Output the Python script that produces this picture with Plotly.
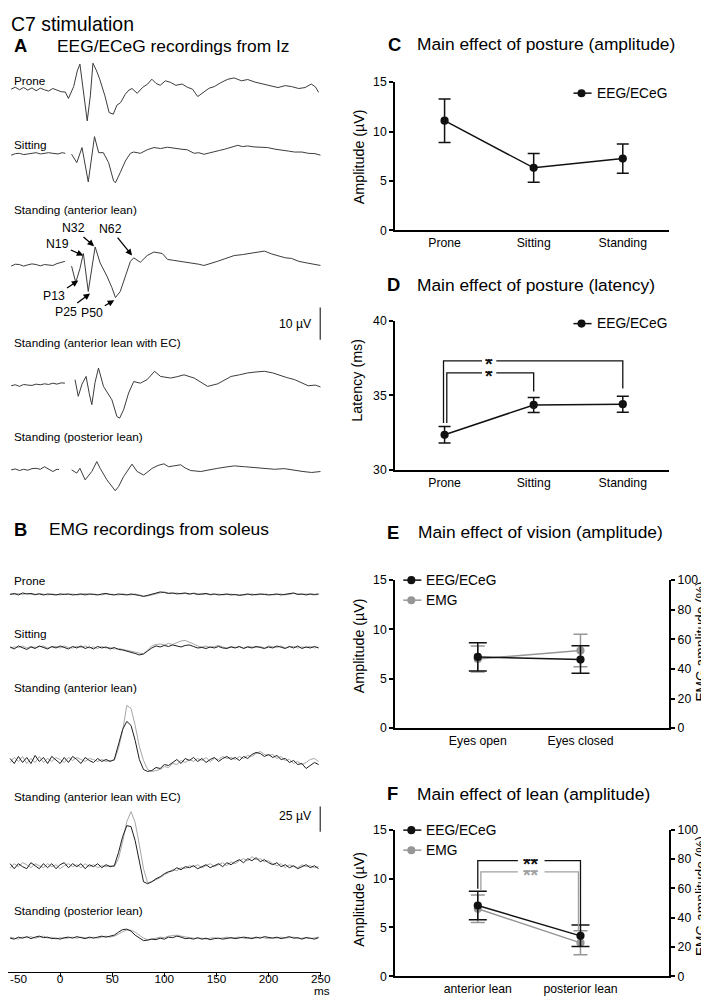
import plotly.graph_objects as go

W, H = 709, 998
FONT = "Liberation Sans, Arial, sans-serif"

# The page is photographed slightly scaled and offset; all positions below are given in
# picture pixels and mapped to figure pixels here.
SX, SY, OX, OY = 0.979, 0.984, 8.5, 16.0


def fxp(x):
    return (x - OX) / SX


def fyp(y):
    return (y - OY) / SY


def px(x):
    return min(W, max(0.0, fxp(x))) / W


def py(y):
    return 1 - min(H, max(0.0, fyp(y))) / H


def fs(size):
    return round(size / SX, 2)


# ------------------------------------------------------------------ data
eeg_names = ["Prone", "Sitting", "Standing (anterior lean)",
             "Standing (anterior lean with EC)", "Standing (posterior lean)"]

eeg_prone_t = [-47, -43, -39, -35, -31, -27, -23, -19, -15, -11, -7, -3, 1, 5, 8, 13, 16.5, 19, 22, 26,
               29, 31.5, 35, 38, 43, 47, 51, 54.5, 58, 62.5, 66, 69, 74, 79, 84, 88, 92, 96, 101, 106,
               111, 117, 122, 127, 132, 138, 143, 148, 154, 161, 167, 174, 180, 187, 196, 203, 209, 216,
               222, 229, 235, 241, 245, 248]
eeg_prone_v = [0, 0.6, -0.2, 0.5, -0.3, 0.4, -0.5, 0.3, -0.2, -0.6, 0.2, -0.4, -0.8, -0.9, -2.9, 0.8, 5.7,
               7.8, 0, -9.9, -2.1, 8.1, 5.7, 3.1, -2.1, -7.3, -7.8, -5.0, -4.2, -1.6, -0.3, 0.2, -1.3, 0.5,
               1.6, 3.1, 1.8, 1.2, 2.6, 2.1, 1.2, 1.6, 0.6, 0, -2.3, -0.8, 0.3, 0.8, 2.0, 3.1, 3.5, 2.6,
               3.0, 2.2, 1.6, 0.9, 0.5, 1.1, 0.8, 0.2, 0.5, 1.6, 0.7, -1.0]
eeg_sit_t = [-47, -43, -39, -35, -31, -27, -23, -19, -15, -11, -7, -2, 2, 5, None, 11, 16, 21, 27, 33,
             37, 41.5, 46.5, 51.3, 53, 57.7, 62.6, 67.4, 70.6, 77, 83.5, 90, 96.4, 103, 109.3, 116, 122,
             128.6, 133, 138, 143, 148, 153, 158, 164, 170.5, 175, 180, 186, 193, 199, 206, 212, 219, 225,
             232, 238, 244.5, 250]
eeg_sit_v = [-0.3, 0.2, 0.3, -0.1, 0.1, 0.4, 0.5, 0.1, 0.2, 0.5, 0.3, 0.1, 0.5, 0.3, None, 0, -2.6, 2.1,
             -8.6, 5.5, 0.5, 0.5, -2.6, -8.3, -8.9, -5.7, -2.1, 0.3, 0.7, 0.3, 1.4, 2.1, 1.8, 2.2, 1.8,
             1.6, 1.4, 0.3, 0.5, 0, 0.4, 0.7, 1.2, 1.6, 2.1, 2.8, 2.4, 2.6, 2.3, 2.1, 2.1, 1.6, 1.4, 1.0,
             0.7, 0.7, 0.3, 0.2, -0.3]
eeg_ant_t = [-47, -43, -39, -35, -31, -27, -23, -19, -15, -11, -7, -3, 1, 4.6, None, 11, 15, 19, 22.3, 27,
             33.6, 38.4, 44.9, 49.7, 53.1, 57.7, 62.6, 67.4, 70.6, 77, 83.5, 90, 98, 103, 109, 116, 122,
             128.6, 133, 138, 145, 151, 158, 167, 175, 183, 190, 196, 203, 209, 216, 222, 229, 235, 242, 250]
eeg_ant_v = [-0.2, 0.4, 0.3, -0.2, 0.2, 0.5, 0.3, -0.1, 0.3, 0.1, 0, 0.6, 1.0, 1.3, None, -0.2, -5.3, -1,
             3.75, -8.1, 5.8, 0.8, -3.3, -6.9, -10, -8.1, -3.3, 1.25, 2.4, 1.0, 3.1, 4.2, 3.75, 1.9, 1.6,
             1.3, 1.0, 0.8, 0.4, 0, 0.6, 1.3, 2.1, 3.1, 3.4, 3.75, 4.2, 4.5, 3.6, 3.1, 2.4, 2.2, 1.3, 0.9,
             0.5, 0]
eeg_ec_t = [-47, -43, -39, -35, -31, -27, -23, -19, -15, -11, -7, -3, 1, 4.6, None, 14.3, 17.4, 21, 24.9, 28,
            30.4, 33.5, 36.8, 41.6, 46.4, 49.7, 54.5, 57.1, 60.9, 65.7, 70.6, 77, 83.5, 90.6, 96.4, 106, 112,
            118.9, 128.6, 135, 141.5, 151.2, 158, 164, 172, 180, 188, 196, 204, 209, 217, 225, 232, 238,
            245, 250]
eeg_ec_v = [0, 0.3, -0.2, 0.4, 0.2, 0.1, 0.5, 0.3, 0.6, 0.4, 0.8, 0.5, 0.9, 0.8, None, 1.9, -3.3, 0.5, 2.9,
            -2.5, -5.9, 1, 5.5, -0.2, -2.8, -4.4, -9.6, -10.1, -7.5, -2.3, 1.3, 0.8, 1.9, 4.5, 2.9, 2.4,
            2.8, 3.4, 2.4, 1.0, -0.2, 0.6, 1.8, 2.9, 3.4, 4.0, 4.3, 4.5, 4.0, 3.4, 2.6, 1.9, 1.0, 0, 0.2,
            -0.4]
eeg_post_t = [-47, -43, -39, -35, -31, -27, -23, -19, -15, -11, -7, -3, -1, None, 11, 16, 19, 24, 30.4,
              35.2, 38.4, 44.9, 52.9, 56.1, 60.9, 69, 73.9, 80.2, 88.4, 94, 99.6, 104, 109.2, 115.7, 120,
              125.4, 135, 143, 151.2, 159, 167.2, 177, 186.5, 196, 205.8, 215, 225.2, 233, 241.3, 250]
eeg_post_v = [0, 0.3, -0.2, 0.2, -0.1, 0.4, 0.5, 0.2, 1.0, 0.3, -0.5, 0.2, 0.1, None, 0, -1.0, 0.5, -3.1,
              -0.5, 2.6, 0.5, -3.1, -6.5, -5.2, -2.1, 1.8, -0.5, -1.6, 0.5, 1.4, 1.9, 1.0, 1.25, 1.6, 0.6,
              -0.2, -0.5, 0.1, 0.5, 0.9, 1.25, 1.0, 0.8, 0.5, 0.2, 0.4, -0.2, -0.5, -0.8, -0.5]

eeg_t = [eeg_prone_t, eeg_sit_t, eeg_ant_t, eeg_ec_t, eeg_post_t]
eeg_v = [eeg_prone_v, eeg_sit_v, eeg_ant_v, eeg_ec_v, eeg_post_v]

peak_labels = ["N19", "N32", "N62", "P13", "P25", "P50"]

emg_t0, emg_dt = -48, 4
emg_prone_black = [0, 1, -0.5, 1.5, 0.5, 1, 0, 0.5, -0.5, 0.5, 0, -0.5, 0.5, 0, 0.5, -0.5, 0, 0.5, -0.5, 0.5,
                   0, -0.5, 0.5, 1, 0, -0.5, 0.5, 0, -0.5, 0.5, 0, -1, -2, -1, 0, 1, 2.5, 2, 1, 1.5,
                   0.5, 1, 1.5, 0.5, 1, 0, 0.5, 1, 0, 0.5, -0.5, 0, 0.5, -0.5, 0, -1, 0, 0.5, -0.5, 0,
                   0.5, 0, -0.5, 0, 0.5, -0.5, 0, 1, 1.5, 0, 0.5, -0.5, 0.5, 0, 0.5]
emg_prone_gray = [0.5, 0, 1, 0, 1, 0.5, -0.5, 1, 0, -0.5, 0.5, 0, -0.5, 0.5, 0, 0.5, -0.5, 0, 1, 0,
                  0.5, 0, -0.5, 0.5, 0.5, 0, -0.5, 0.5, 0, -0.5, 0.5, -0.5, -1.5, -1.5, -0.5, 0.5, 1.5, 2.5, 1.5, 1,
                  1.5, 0.5, 1, 0, 1.5, 0.5, 0, 0.5, -0.5, 0, 0.5, -0.5, 0, 0.5, -0.5, 0, -0.5, 0, 0.5, -0.5,
                  0, 0.5, 0, -0.5, 0, 0.5, -0.5, 0.5, 1, 0.5, 0, 0.5, 0, -0.5, 0]
emg_sit_black = [1, -1, 2, 0, -1.5, 1, -0.5, 2, 0.5, -1, 1.5, 0, 2, 0.5, -1, 1.5, 0, 2, -0.5, 1,
                 -1, 1.5, 0, 1, -1, 0.5, -1.5, -2, -3, -4, -5.5, -7, -6, -3, 0, 2, 1, 2.5, 1.5, 3,
                 2, 1, 2.5, 3, 1.5, 0, 0.5, -0.5, 1, 0, 1.5, 0, -0.5, 1, 0, 1.5, -0.5, 1, 0, 1.5,
                 0.5, -0.5, 1, 0, 2, 0.5, -0.5, 1.5, 0, 2, -0.5, 1, 0, 1.5, 0]
emg_sit_gray = [0, 1, 0.5, 2, 0, 1.5, 0.5, 1, 2, 0, 1, 1.5, 0, 2, 0.5, 0, 1.5, 0.5, 2, 0,
                1, -0.5, 1.5, 0, 0.5, -1, -0.5, -1.5, -2.5, -3, -4.5, -5.5, -6, -2, 2, 3.5, 4, 3, 4.5, 3.5,
                5, 7, 7.5, 6, 4, 2, 1, 2, 0.5, 1.5, 2.5, 1, 0, 1.5, 0.5, 1, 0, 1.5, 1, 0.5,
                1.5, 0, 2, 1, 0.5, 2, 0, 1, 1.5, 0, 1, 0.5, 1.5, 0, 1]
emg_ant_black = [2, -3, 4, -2, 3, -3, 5, -1, 3, -3, 4, 0, -3, 3, -2, 4, 1, -3, 3, 0,
                 -2, 2, -1, 1, -1, 1, 15, 31, 39, 35, 20, 1, -9, -11, -10, -7, -8, -4, -5, -2,
                 1, -3, 2, 0, 3, -1, 2, -2, 1, 3, -1, 2, 4, 1, 3, 0, 4, 2, 6, 8,
                 7, 4, 6, 3, 5, 1, 2, -2, 0, -4, -3, -8, -5, -2, -4]
emg_ant_gray = [-2, 3, -1, 4, -3, 2, -2, 4, -2, 2, -1, 3, 1, -2, 3, 0, 3, 1, -1, 2,
                1, -1, 1, -1, 0, 0, 12, 30, 55, 52, 35, 14, 0, -9, -11, -10, -9, -6, -7, -3,
                -4, 0, -2, 1, -1, 2, 0, 3, -1, 2, 1, 4, 2, 3, 1, 4, 2, 5, 4, 7,
                9, 6, 5, 6, 2, 4, 0, 1, -3, -1, -4, -2, 1, 2, -1]
emg_ec_black = [3, -2, 3, 0, -2, 4, 1, -2, 3, -1, 3, -2, 2, 4, -1, 3, 0, 3, -2, 2,
                0, 3, -1, 2, 0, 1, 14, 30, 41, 40, 26, 6, -15, -17, -15, -12, -10, -7, -5, -4,
                -1, -3, 0, -1, 1, -2, 0, 2, -1, 1, 3, 0, 4, 2, 5, 7, 4, 8, 6, 9,
                5, 7, 4, 2, 4, 0, 2, -1, 1, -2, 0, 2, -1, 1, -2]
emg_ec_gray = [-1, 3, 0, 4, 2, -1, 3, 1, -1, 3, 0, 2, -2, 1, 3, 0, 2, -1, 3, 0,
               2, -1, 1, 0, 1, 0, 8, 25, 45, 55, 44, 22, -2, -16, -15, -13, -11, -8, -6, -3,
               -4, -1, -2, 1, 0, 2, -1, 1, 3, 0, 2, 4, 1, 5, 3, 6, 8, 6, 10, 7,
               8, 5, 6, 3, 1, 3, -1, 2, 0, -1, 2, 0, 1, -1, 0]
emg_post_black = [0, -1, 1, 0, 1.5, -0.5, 1, 2, 0.5, 1, -0.5, 0, -1, 0.5, 1, 0, 1.5, 0.5, -0.5, 1,
                  0, 1, 2, 1, 2, 3, 6, 8.5, 9, 7, 3, 0, -2.5, -2, -1, -1.5, 0, -1, 1, 0.5,
                  2, 1, -0.5, 0, -1, 0.5, -1, 0, -1.5, -0.5, 0, -1, 0, 0.5, -0.5, 0, 1, 0.5, -0.5, 1,
                  0, 1.5, 0.5, 0, 1, -0.5, 0.5, 1.5, 0, 0.5, -1, 0.5, 0, -1, 0.5]
emg_post_gray = [1, 0, -1, 1, 0.5, 1.5, 0, 1, 2, 0, 1, -1, 0.5, -0.5, 0, 1, 0, 1, 0.5, 0,
                 1, 0, 1, 2, 1, 2, 4, 6.5, 8, 8, 6, 3, 0, -1.5, -1, 0, 1, 0.5, 2, 2.5,
                 3, 2, 1, 0.5, 0, -0.5, 0, -1, 0, 0.5, -0.5, 0, 1, 0, 0.5, 1, 0, -0.5, 0.5, 0,
                 1, 0.5, -0.5, 0.5, 0, 1, 0, 0.5, 1, -0.5, 0, 0.5, -0.5, 0, 1]

emg_black = [emg_prone_black, emg_sit_black, emg_ant_black, emg_ec_black, emg_post_black]
emg_gray = [emg_prone_gray, emg_sit_gray, emg_ant_gray, emg_ec_gray, emg_post_gray]

scale_a_uv = 10
scale_b_uv = 25
time_ticks = [-50, 0, 50, 100, 150, 200, 250]

posture = ["Prone", "Sitting", "Standing"]
amp_mean = [11.1, 6.33, 7.27]
amp_err = [2.2, 1.45, 1.48]

lat_mean = [32.35, 34.35, 34.4]
lat_err = [0.55, 0.5, 0.53]

vision = ["Eyes open", "Eyes closed"]
vis_eeg_mean = [7.22, 6.95]
vis_eeg_err = [1.43, 1.4]
vis_emg_mean = [46.7, 52.4]
vis_emg_err = [8.8, 11.0]

lean = ["anterior lean", "posterior lean"]
lean_eeg_mean = [7.25, 4.14]
lean_eeg_err = [1.47, 1.1]
lean_emg_mean = [46.1, 22.8]
lean_emg_err = [9.4, 8.2]

# ------------------------------------------------------------------ layout constants (picture px)
BLACK = "#111111"
GRAY = "#969696"
TRACE_EEG = "#3c3c3c"
TRACE_GRAY = "#a6a6a6"

A_TOP, A_BOT = 60, 500
A_PXUV = 3.2                    # picture px per µV (EEG)
eeg_base_px = [90, 155, 266, 386, 470]
B_TOP, B_BOT = 560, 971
emg_base_px = [594.3, 647.7, 760, 866, 937.3]

X_L, X_R = 8.5, 319            # picture px of -50 ms and 250 ms
t_min, t_max = -50, 250
fig_per_ms = (fxp(X_R) - fxp(X_L)) / (t_max - t_min)
t_left = t_max - fxp(X_R) / fig_per_ms
t_range = [t_left, t_max]

fig = go.Figure()

for t, v, base in zip(eeg_t, eeg_v, eeg_base_px):
    off = (A_BOT - base) / A_PXUV
    fig.add_trace(go.Scatter(
        x=t, y=[None if val is None else val + off for val in v],
        mode="lines", line=dict(color=TRACE_EEG, width=1),
        xaxis="x", yaxis="y", showlegend=False, hoverinfo="skip"))

for blk, gry, base in zip(emg_black, emg_gray, emg_base_px):
    off = B_BOT - base
    for vals, col in ((gry, TRACE_GRAY), (blk, "#1e1e1e")):
        fig.add_trace(go.Scatter(
            x=[emg_t0 + emg_dt * i for i in range(len(vals))],
            y=[val + off for val in vals],
            mode="lines", line=dict(color=col, width=1),
            xaxis="x2", yaxis="y2", showlegend=False, hoverinfo="skip"))


def err_scatter(xv, yv, ev, color, xa, ya, cap, name):
    return go.Scatter(
        x=xv, y=yv, mode="lines+markers", name=name,
        line=dict(color=color, width=1.5),
        marker=dict(color=color, size=8.2),
        error_y=dict(type="data", array=ev, color=color, thickness=1.5, width=cap),
        xaxis=xa, yaxis=ya, showlegend=False)


fig.add_trace(err_scatter(list(range(len(posture))), amp_mean, amp_err, BLACK, "x3", "y3", 6, "EEG/ECeG"))
fig.add_trace(err_scatter(list(range(len(posture))), lat_mean, lat_err, BLACK, "x4", "y4", 6, "EEG/ECeG"))
fig.add_trace(err_scatter(list(range(len(vision))), vis_emg_mean, vis_emg_err, GRAY, "x5", "y5", 7, "EMG"))
fig.add_trace(err_scatter(list(range(len(vision))), vis_eeg_mean, vis_eeg_err, BLACK, "x5", "y6", 9, "EEG/ECeG"))
fig.add_trace(err_scatter(list(range(len(lean))), lean_emg_mean, lean_emg_err, GRAY, "x6", "y7", 7, "EMG"))
fig.add_trace(err_scatter(list(range(len(lean))), lean_eeg_mean, lean_eeg_err, BLACK, "x6", "y8", 9, "EEG/ECeG"))

xdom_left = [0.0, px(X_R)]
xdom_right = [px(393), px(665)]

hidden = dict(visible=False, showgrid=False, zeroline=False, fixedrange=True)
tickfont = dict(family=FONT, size=fs(12), color="black")


def cat_x(dom, rng, labels, anchor):
    return dict(domain=dom, range=rng, tickvals=list(range(len(labels))), ticktext=labels,
                showline=True, linewidth=2, linecolor="black", ticks="", showgrid=False,
                zeroline=False, anchor=anchor, tickfont=tickfont)


def val_y(dom, rng, tv, anchor, side="left", overlaying=None):
    d = dict(domain=dom, range=rng, tickvals=tv, ticktext=[str(v) for v in tv], showline=True,
             linewidth=2, linecolor="black", ticks="outside", ticklen=4, tickwidth=1.5,
             tickcolor="black", showgrid=False, zeroline=False, anchor=anchor, side=side,
             tickfont=tickfont)
    if overlaying:
        d["overlaying"] = overlaying
    return d


fig.update_layout(
    width=W, height=H, margin=dict(l=0, r=0, t=0, b=0),
    paper_bgcolor="white", plot_bgcolor="white",
    font=dict(family=FONT, color="black"),
    xaxis=dict(domain=xdom_left, range=t_range, anchor="y", **hidden),
    yaxis=dict(domain=[py(A_BOT), py(A_TOP)], range=[0, (A_BOT - A_TOP) / A_PXUV], anchor="x", **hidden),
    xaxis2=dict(domain=xdom_left, range=t_range, anchor="y2", showline=True, linewidth=1,
                linecolor="black", ticks="outside", ticklen=4, tickwidth=1, tickcolor="black",
                tickvals=time_ticks[1:], ticktext=[str(v) for v in time_ticks[1:]], showgrid=False,
                zeroline=False, ticklabelstandoff=-8,
                tickfont=dict(family=FONT, size=fs(11.5), color="black")),
    yaxis2=dict(domain=[py(B_BOT), py(B_TOP)], range=[0, B_BOT - B_TOP], anchor="x2", **hidden),
    xaxis3=cat_x(xdom_right, [-0.554, 2.52], posture, "y3"),
    yaxis3=val_y([py(231), py(83)], [0, 15], [0, 5, 10, 15], "x3"),
    xaxis4=cat_x(xdom_right, [-0.554, 2.52], posture, "y4"),
    yaxis4=val_y([py(470), py(321)], [30, 40], [30, 35, 40], "x4"),
    xaxis5=cat_x(xdom_right, [-0.804, 1.863], vision, "y5"),
    yaxis5=val_y([py(727.7), py(580)], [0, 100], [0, 20, 40, 60, 80, 100], "x5", side="right"),
    yaxis6=val_y([py(727.7), py(580)], [0, 15], [0, 5, 10, 15], "x5", overlaying="y5"),
    xaxis6=cat_x(xdom_right, [-0.804, 1.863], lean, "y7"),
    yaxis7=val_y([py(975.3), py(829.3)], [0, 100], [0, 20, 40, 60, 80, 100], "x6", side="right"),
    yaxis8=val_y([py(975.3), py(829.3)], [0, 15], [0, 5, 10, 15], "x6", overlaying="y7"),
)

shapes = []
annotations = []


def text(x, y, s, size, xanchor="left", bold=False, color="black", angle=0, yanchor="middle", yshift=0):
    annotations.append(dict(
        x=px(x), y=py(y), xref="paper", yref="paper", text=f"<b>{s}</b>" if bold else s,
        showarrow=False, xanchor=xanchor, yanchor=yanchor, textangle=angle, yshift=yshift,
        font=dict(family=FONT, size=fs(size), color=color)))


# the very top strip of the picture is out of reach, so the heading sits as high as possible
text(9, 0, "C7 stimulation", 19, yanchor="top", yshift=4)
for letter, lx, tx, ty, title in [
    ("A", 12, 55, 46.5, "EEG/ECeG recordings from Iz"),
    ("B", 12, 47, 529, "EMG recordings from soleus"),
    ("C", 384, 413, 45, "Main effect of posture (amplitude)"),
    ("D", 383, 413, 285, "Main effect of posture (latency)"),
    ("E", 383, 414, 532, "Main effect of vision (amplitude)"),
    ("F", 383, 413, 793, "Main effect of lean (amplitude)"),
]:
    text(lx, ty, letter, 18, bold=True)
    text(tx, ty, title, 17)

for name, ly in zip(eeg_names, [81, 145, 210, 343, 437]):
    text(12, ly, name, 11.5)
for name, ly in zip(eeg_names, [580, 633, 687, 796, 910]):
    text(12, ly, name, 11.5)

text(0, 978, str(time_ticks[0]), 11.5)

shapes.append(dict(type="line", xref="x", yref="y", x0=t_max, x1=t_max,
                   y0=(A_BOT - 340) / A_PXUV, y1=(A_BOT - 340) / A_PXUV + scale_a_uv,
                   line=dict(color="black", width=2)))
text(312, 324, f"{scale_a_uv} µV", 12, xanchor="right")
shapes.append(dict(type="line", xref="x2", yref="y2", x0=t_max, x1=t_max,
                   y0=B_BOT - 831, y1=B_BOT - 831 + scale_b_uv,
                   line=dict(color="black", width=2)))
text(312, 815, f"{scale_b_uv} µV", 12, xanchor="right")
text(320, 990, "ms", 11.5, xanchor="center")

peak_geom = [((83.3, 256), (58.3, 245)), ((94, 246.7), (74, 229.3)), ((131.7, 256), (110.8, 230)),
             ((78.3, 281), (55, 296.5)), ((90, 294), (66.2, 311.7)), ((114, 300.7), (92.5, 313.3))]
for lab, (tip, tc) in zip(peak_labels, peak_geom):
    annotations.append(dict(
        x=px(tip[0]), y=py(tip[1]), xref="paper", yref="paper", text=lab,
        showarrow=True, ax=(tc[0] - tip[0]) / SX, ay=(tc[1] - tip[1]) / SY, axref="pixel", ayref="pixel",
        arrowhead=2, arrowsize=1, arrowwidth=1.3, arrowcolor="black", standoff=0,
        font=dict(family=FONT, size=fs(12), color="black")))

text(357, 157, "Amplitude (µV)", 14, xanchor="center", angle=-90)
text(355, 380, "Latency (ms)", 14, xanchor="center", angle=-90)
text(357, 645, "Amplitude (µV)", 14, xanchor="center", angle=-90)
text(697, 641, "EMG amplitude (%)", 13.5, xanchor="center", angle=-90)
text(357, 898, "Amplitude (µV)", 14, xanchor="center", angle=-90)
text(697, 895, "EMG amplitude (%)", 13.5, xanchor="center", angle=-90)


def legend_item(x_line0, y, label, color):
    shapes.append(dict(type="line", xref="paper", yref="paper", x0=px(x_line0), x1=px(x_line0 + 18),
                       y0=py(y), y1=py(y), line=dict(color=color, width=1.5)))
    cx = x_line0 + 8
    shapes.append(dict(type="circle", xref="paper", yref="paper", x0=px(cx - 4), x1=px(cx + 4),
                       y0=py(y + 4), y1=py(y - 4), fillcolor=color, line=dict(color=color, width=0)))
    text(x_line0 + 21, y, label, 13.5)


legend_item(570, 94, "EEG/ECeG", BLACK)
legend_item(570, 324, "EEG/ECeG", BLACK)
legend_item(401, 580, "EEG/ECeG", BLACK)
legend_item(401, 600, "EMG", GRAY)
legend_item(401, 829.5, "EEG/ECeG", BLACK)
legend_item(401, 849.5, "EMG", GRAY)


def bracket(xa, ya, xl, yl, xr, yr, ytop, color, stars, xs, gap):
    shapes.append(dict(type="path", xref=xa, yref=ya,
                       path=(f"M {xl},{yl} L {xl},{ytop} L {xs - gap},{ytop} "
                             f"M {xs + gap},{ytop} L {xr},{ytop} L {xr},{yr}"),
                       line=dict(color=color, width=1.3)))
    annotations.append(dict(x=xs, y=ytop, xref=xa, yref=ya, text=f"<b>{stars}</b>",
                            showarrow=False, height=9, valign="middle", yshift=-3, borderpad=0,
                            font=dict(family=FONT, size=fs(19), color=color)))


bracket("x4", "y4", -0.012, 33.15, 2, 35.45, 37.3, BLACK, "*", 0.5, 0.08)
bracket("x4", "y4", 0.025, 33.15, 1, 35.25, 36.5, BLACK, "*", 0.5, 0.08)
bracket("x6", "y8", 0, 8.97, 1, 5.17, 11.85, BLACK, "**", 0.52, 0.13)
bracket("x6", "y8", 0.03, 8.8, 0.98, 4.65, 10.7, "#a0a0a0", "**", 0.52, 0.13)

fig.update_layout(shapes=shapes, annotations=annotations)
fig.write_html("out.html")
